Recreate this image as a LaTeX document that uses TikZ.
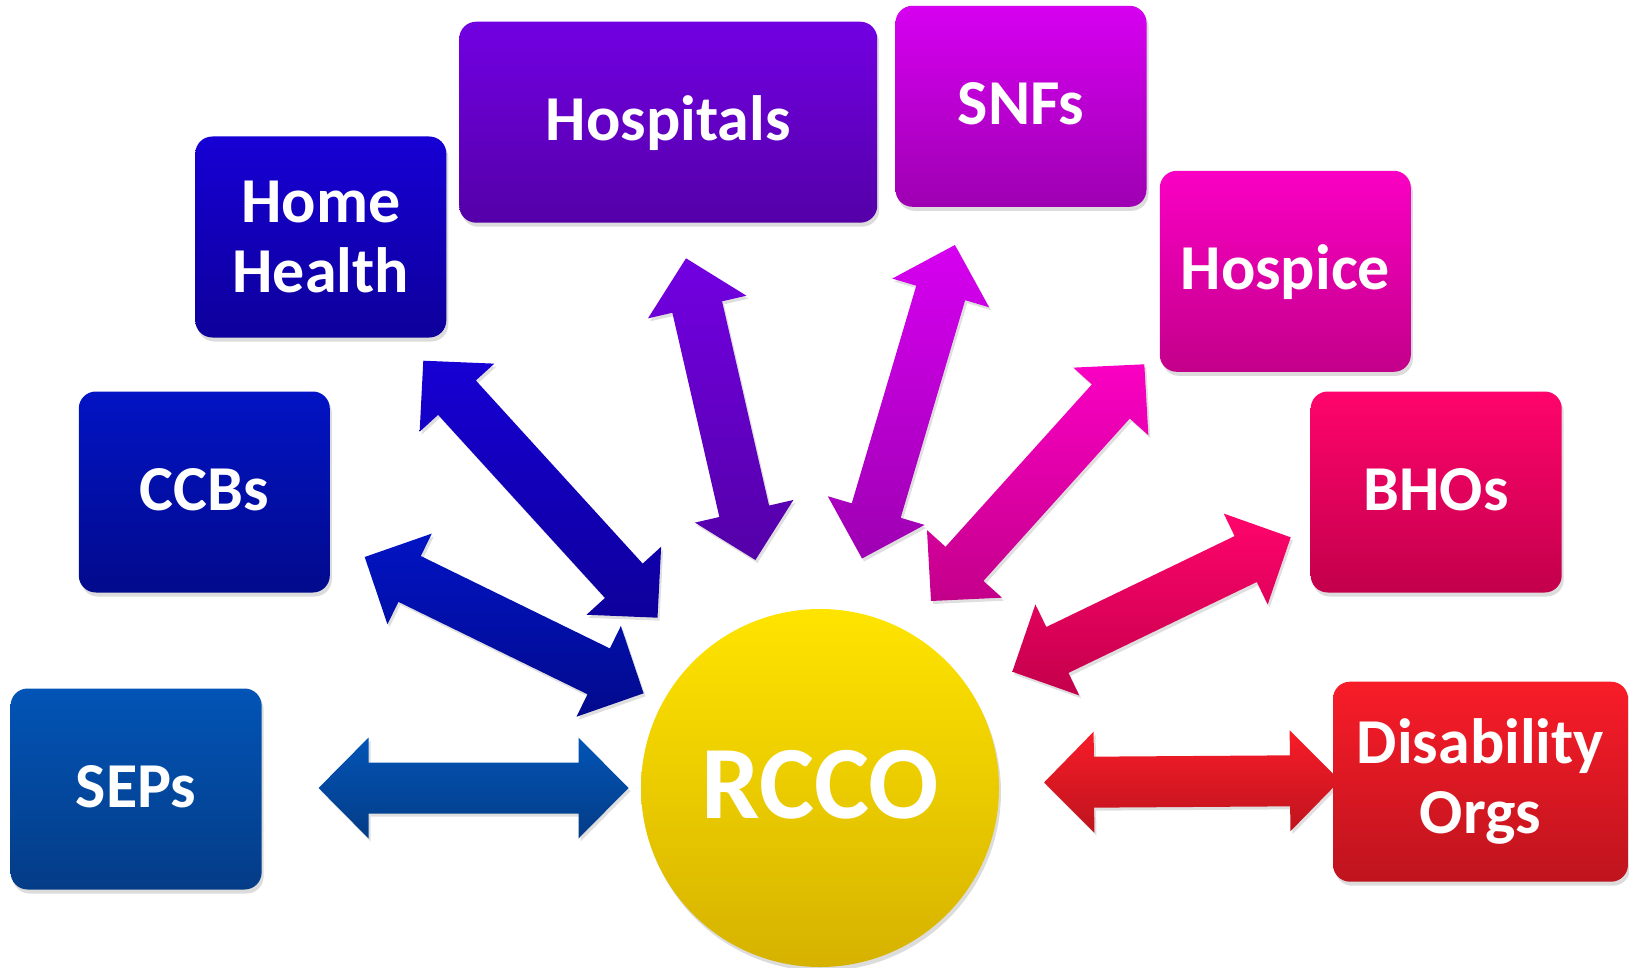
\documentclass[tikz,border=0pt]{standalone}
\usepackage{fontspec}
\setmainfont{Carlito}
\usetikzlibrary{calc,shadows,backgrounds}

\definecolor{sepT}{RGB}{2,84,182}
\definecolor{sepB}{RGB}{4,60,135}
\definecolor{ccbT}{RGB}{2,20,196}
\definecolor{ccbB}{RGB}{2,10,140}
\definecolor{hhT}{RGB}{22,0,212}
\definecolor{hhB}{RGB}{14,0,155}
\definecolor{hosT}{RGB}{114,0,226}
\definecolor{hosB}{RGB}{84,0,168}
\definecolor{snfT}{RGB}{214,0,240}
\definecolor{snfB}{RGB}{158,0,178}
\definecolor{hpcT}{RGB}{250,0,195}
\definecolor{hpcB}{RGB}{195,0,138}
\definecolor{bhoT}{RGB}{255,4,108}
\definecolor{bhoB}{RGB}{195,0,75}
\definecolor{disT}{RGB}{248,28,40}
\definecolor{disB}{RGB}{190,20,30}
\definecolor{rcT}{RGB}{255,228,0}
\definecolor{rcB}{RGB}{214,178,0}

\tikzset{
  orgbox/.style={rectangle, rounded corners=17pt, draw=none, text=white,
    font=\fontsize{64}{70}\selectfont\bfseries, align=center, inner sep=0pt,
    minimum width=251pt, minimum height=201pt,
    drop shadow={shadow xshift=2pt, shadow yshift=-4pt, opacity=0.28}},
  oneline/.style={text height=36pt, text depth=0pt},
  hub/.style={circle, draw=none, text=white, inner sep=0pt, minimum size=358pt,
    font=\fontsize{104}{110}\selectfont\bfseries, text height=60.6pt, text depth=0pt,
    top color=rcT, bottom color=rcB,
    drop shadow={shadow xshift=2pt, shadow yshift=-4pt, opacity=0.28}},
  linkarrow/.style={draw=none,
    drop shadow={shadow xshift=2pt, shadow yshift=-3pt, opacity=0.25}},
}

% double-headed block arrow between two named coordinates
\newcommand{\dblarrow}[3]{%
  \path[linkarrow, top color=#3T, bottom color=#3B]
    (#1)
    -- ($(#1)!50pt!(#2)!50.5pt!90:(#2)$)
    -- ($(#1)!50pt!(#2)!25.5pt!90:(#2)$)
    -- ($(#2)!50pt!(#1)!25.5pt!-90:(#1)$)
    -- ($(#2)!50pt!(#1)!50.5pt!-90:(#1)$)
    -- (#2)
    -- ($(#2)!50pt!(#1)!50.5pt!90:(#1)$)
    -- ($(#2)!50pt!(#1)!25.5pt!90:(#1)$)
    -- ($(#1)!50pt!(#2)!25.5pt!-90:(#2)$)
    -- ($(#1)!50pt!(#2)!50.5pt!-90:(#2)$)
    -- cycle;}

\begin{document}
\begin{tikzpicture}[x=1pt, y=-1pt]
\useasboundingbox (0,0) rectangle (1629,968);

% boxes
\node[orgbox, oneline, top color=sepT, bottom color=sepB] (seps) at (136.1,789) {SEPs};
\node[orgbox, oneline, top color=ccbT, bottom color=ccbB] (ccbs) at (204.3,492) {CCBs};
\node[orgbox, top color=hhT, bottom color=hhB] (hh) at (320.8,237) {Home\\Health};
\node[orgbox, oneline, minimum width=418pt, top color=hosT, bottom color=hosB] (hosp) at (668.2,122.2) {Hospitals};
\node[orgbox, oneline, top color=snfT, bottom color=snfB] (snfs) at (1021,106.3) {SNFs};
\node[orgbox, oneline, top color=hpcT, bottom color=hpcB] (hospice) at (1285.3,271.3) {Hospice};
\node[orgbox, oneline, top color=bhoT, bottom color=bhoB] (bhos) at (1436.2,492) {BHOs};
\node[orgbox, minimum width=295pt, minimum height=200pt, top color=disT, bottom color=disB] (dis) at (1480.5,781.7) {Disability\\Orgs};

% hub
\node[hub] (rcco) at (820,788) {RCCO};

% arrow end points
\coordinate (a1s) at (318.6,788);   \coordinate (a1e) at (628.5,788);
\coordinate (a2s) at (364.7,557);   \coordinate (a2e) at (643.6,693.3);
\coordinate (a3s) at (423.3,360.7); \coordinate (a3e) at (657.5,617.7);
\coordinate (a4s) at (686,258.3);   \coordinate (a4e) at (755.4,560);
\coordinate (a5s) at (954.9,245);   \coordinate (a5e) at (862,558.5);
\coordinate (a6s) at (1144.3,364.3);\coordinate (a6e) at (931,601);
\coordinate (a7s) at (1290.7,537.3);\coordinate (a7e) at (1012.3,671.7);
\coordinate (a8s) at (1044,782.5);  \coordinate (a8e) at (1340,780.5);

\begin{pgfonlayer}{background}
\dblarrow{a1s}{a1e}{sep}
\dblarrow{a2s}{a2e}{ccb}
\dblarrow{a3s}{a3e}{hh}
\dblarrow{a4s}{a4e}{hos}
\dblarrow{a5s}{a5e}{snf}
\dblarrow{a6s}{a6e}{hpc}
\dblarrow{a7s}{a7e}{bho}
\dblarrow{a8s}{a8e}{dis}
\end{pgfonlayer}
\end{tikzpicture}
\end{document}
